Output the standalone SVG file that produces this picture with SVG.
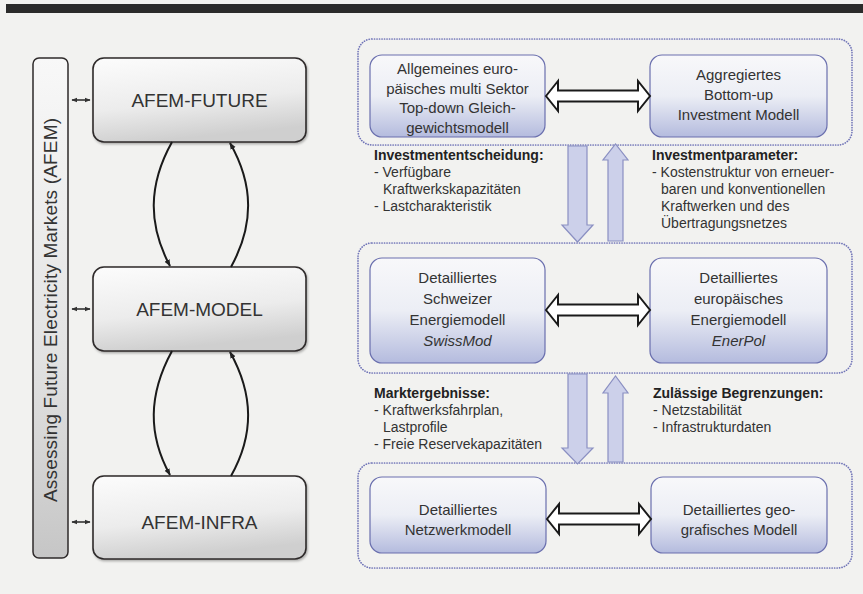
<svg xmlns="http://www.w3.org/2000/svg" width="863" height="594" viewBox="0 0 863 594">
<defs>
  <linearGradient id="gGray" x1="0" y1="0" x2="0.25" y2="1">
    <stop offset="0" stop-color="#fcfcfc"/>
    <stop offset="0.6" stop-color="#ececec"/>
    <stop offset="1" stop-color="#cfcfcf"/>
  </linearGradient>
  <linearGradient id="gBar" x1="0" y1="0" x2="0" y2="1">
    <stop offset="0" stop-color="#f8f8f8"/>
    <stop offset="0.6" stop-color="#e2e2e2"/>
    <stop offset="1" stop-color="#c6c6c6"/>
  </linearGradient>
  <linearGradient id="gBlue" x1="0" y1="0" x2="0" y2="1">
    <stop offset="0" stop-color="#f8f8fa"/>
    <stop offset="0.5" stop-color="#eceef5"/>
    <stop offset="1" stop-color="#b4bbde"/>
  </linearGradient>
  <filter id="sh" x="-10%" y="-10%" width="130%" height="130%">
    <feDropShadow dx="1" dy="1.5" stdDeviation="1.2" flood-color="#000" flood-opacity="0.3"/>
  </filter>
  <marker id="ah" viewBox="0 0 10 10" refX="9" refY="5" markerWidth="7" markerHeight="7" orient="auto-start-reverse" markerUnits="userSpaceOnUse">
    <path d="M0,1 L10,5 L0,9 z" fill="#222"/>
  </marker>
  <marker id="ahs" viewBox="0 0 10 10" refX="9" refY="5" markerWidth="6" markerHeight="6" orient="auto-start-reverse" markerUnits="userSpaceOnUse">
    <path d="M0,1 L10,5 L0,9 z" fill="#333"/>
  </marker>
</defs>
<style>
  .lbox { fill: url(#gGray); stroke: #2e2a2a; stroke-width: 1.6; filter: url(#sh); }
  .ltxt { font-family: "Liberation Sans", Arial, sans-serif; font-size: 19px; fill: #333; text-anchor: middle; }
  .cont { fill: none; stroke: #7276b8; stroke-width: 1.7; stroke-dasharray: 0.1 2.4; stroke-linecap: round; }
  .rbox { fill: url(#gBlue); stroke: #6a6fae; stroke-width: 1.2; }
  .btxt { font-family: "Liberation Sans", Arial, sans-serif; font-size: 15px; fill: #333; text-anchor: middle; }
  .hd { font-family: "Liberation Sans", Arial, sans-serif; font-size: 14px; font-weight: bold; fill: #222; }
  .tx { font-family: "Liberation Sans", Arial, sans-serif; font-size: 14px; fill: #333; }
  .dbl { fill: #fff; stroke: #1a1a1a; stroke-width: 2; stroke-linejoin: miter; }
  .varr { fill: #ccd0ea; stroke: #8a8fc2; stroke-width: 1.2; }
  .crv { fill: none; stroke: #1a1a1a; stroke-width: 2; }
  .sm { fill: none; stroke: #333; stroke-width: 1.6; }
</style>
<rect x="0" y="0" width="863" height="594" fill="#f2f2f0"/>
<rect x="6" y="4" width="857" height="9" fill="#2b2b2b"/>

<g id="afem-bar">
  <rect x="33" y="58" width="35" height="500" rx="6" fill="url(#gBar)" stroke="#2e2a2a" stroke-width="1.5"/>
  <text class="ltxt" transform="translate(57,310) rotate(-90)" textLength="384" lengthAdjust="spacing">Assessing Future Electricity Markets (AFEM)</text>
</g>
<g id="afem-future">
  <rect class="lbox" x="93" y="58" width="213" height="84" rx="11"/>
  <text class="ltxt" x="199.5" y="107">AFEM-FUTURE</text>
</g>
<g id="afem-model">
  <rect class="lbox" x="93" y="267" width="213" height="84" rx="11"/>
  <text class="ltxt" x="199.5" y="316">AFEM-MODEL</text>
</g>
<g id="afem-infra">
  <rect class="lbox" x="93" y="476" width="213" height="83" rx="11"/>
  <text class="ltxt" x="199.5" y="529">AFEM-INFRA</text>
</g>

<g id="container-top"><rect class="cont" x="358" y="39" width="494" height="106" rx="14"/></g>
<g id="container-mid"><rect class="cont" x="358" y="243" width="494" height="130" rx="14"/></g>
<g id="container-bot"><rect class="cont" x="358" y="463" width="494" height="105" rx="14"/></g>

<g id="box-cge">
  <rect class="rbox" x="370" y="55" width="175" height="82" rx="12"/>
  <text class="btxt" x="457.5" y="74">Allgemeines euro-</text>
  <text class="btxt" x="457.5" y="93.5">päisches multi Sektor</text>
  <text class="btxt" x="457.5" y="113">Top-down Gleich-</text>
  <text class="btxt" x="457.5" y="132.5">gewichtsmodell</text>
</g>
<g id="box-bottomup">
  <rect class="rbox" x="650" y="55" width="177" height="82" rx="12"/>
  <text class="btxt" x="738.5" y="80">Aggregiertes</text>
  <text class="btxt" x="738.5" y="100">Bottom-up</text>
  <text class="btxt" x="738.5" y="120">Investment Modell</text>
</g>
<g id="box-swissmod">
  <rect class="rbox" x="370" y="258" width="175" height="105" rx="12"/>
  <text class="btxt" x="457.5" y="283">Detailliertes</text>
  <text class="btxt" x="457.5" y="304">Schweizer</text>
  <text class="btxt" x="457.5" y="325">Energiemodell</text>
  <text class="btxt" x="457.5" y="346" font-style="italic">SwissMod</text>
</g>
<g id="box-enerpol">
  <rect class="rbox" x="650" y="258" width="177" height="105" rx="12"/>
  <text class="btxt" x="738.5" y="283">Detailliertes</text>
  <text class="btxt" x="738.5" y="304">europäisches</text>
  <text class="btxt" x="738.5" y="325">Energiemodell</text>
  <text class="btxt" x="738.5" y="346" font-style="italic">EnerPol</text>
</g>
<g id="box-netz">
  <rect class="rbox" x="370" y="477" width="176" height="76" rx="12"/>
  <text class="btxt" x="458" y="515">Detailliertes</text>
  <text class="btxt" x="458" y="535">Netzwerkmodell</text>
</g>
<g id="box-geo">
  <rect class="rbox" x="651" y="477" width="176" height="76" rx="12"/>
  <text class="btxt" x="739" y="515">Detailliertes geo-</text>
  <text class="btxt" x="739" y="535">grafisches Modell</text>
</g>

<g id="label-invest-decision">
  <text class="hd" x="374" y="160">Investmententscheidung:</text>
  <text class="tx" x="374" y="177">- Verfügbare</text>
  <text class="tx" x="383" y="194">Kraftwerkskapazitäten</text>
  <text class="tx" x="374" y="211">- Lastcharakteristik</text>
</g>
<g id="label-invest-param">
  <text class="hd" x="652" y="160">Investmentparameter:</text>
  <text class="tx" x="652" y="177">- Kostenstruktur von erneuer-</text>
  <text class="tx" x="661" y="194">baren und konventionellen</text>
  <text class="tx" x="661" y="211">Kraftwerken und des</text>
  <text class="tx" x="661" y="228">Übertragungsnetzes</text>
</g>
<g id="label-market">
  <text class="hd" x="374" y="398">Marktergebnisse:</text>
  <text class="tx" x="374" y="415">- Kraftwerksfahrplan,</text>
  <text class="tx" x="383" y="432">Lastprofile</text>
  <text class="tx" x="374" y="449">- Freie Reservekapazitäten</text>
</g>
<g id="label-limits">
  <text class="hd" x="653" y="398">Zulässige Begrenzungen:</text>
  <text class="tx" x="653" y="415">- Netzstabilität</text>
  <text class="tx" x="653" y="432">- Infrastrukturdaten</text>
</g>

<g id="connectors">
  <line class="sm" x1="72" y1="100" x2="90" y2="100" marker-start="url(#ahs)" marker-end="url(#ahs)"/>
  <line class="sm" x1="72" y1="309" x2="90" y2="309" marker-start="url(#ahs)" marker-end="url(#ahs)"/>
  <line class="sm" x1="72" y1="522" x2="90" y2="522" marker-start="url(#ahs)" marker-end="url(#ahs)"/>

  <path class="crv" d="M172,142 C148,185 148,225 170,266" marker-end="url(#ah)"/>
  <path class="crv" d="M231,267 C254,225 254,185 230,143" marker-end="url(#ah)"/>
  <path class="crv" d="M172,351 C148,395 148,435 170,475" marker-end="url(#ah)"/>
  <path class="crv" d="M231,476 C254,435 254,395 230,352" marker-end="url(#ah)"/>

  <polygon class="dbl" points="546,96 558,81 558,90.5 638,90.5 638,81 650,96 638,111 638,101.5 558,101.5 558,111"/>
  <polygon class="dbl" points="546,310 558,295 558,304.5 638,304.5 638,295 650,310 638,325 638,315.5 558,315.5 558,325"/>
  <polygon class="dbl" points="547,519 559,504 559,513.5 639,513.5 639,504 651,519 639,534 639,524.5 559,524.5 559,534"/>

  <polygon class="varr" points="568,146 587,146 587,225 593,225 577.5,242 562,225 568,225"/>
  <polygon class="varr" points="608,241 623,241 623,160 628,160 615.5,144 603,160 608,160"/>
  <polygon class="varr" points="568,374 587,374 587,448 593,448 577.5,464 562,448 568,448"/>
  <polygon class="varr" points="608,462 623,462 623,393 628,393 615.5,376 603,393 608,393"/>
</g>
</svg>
